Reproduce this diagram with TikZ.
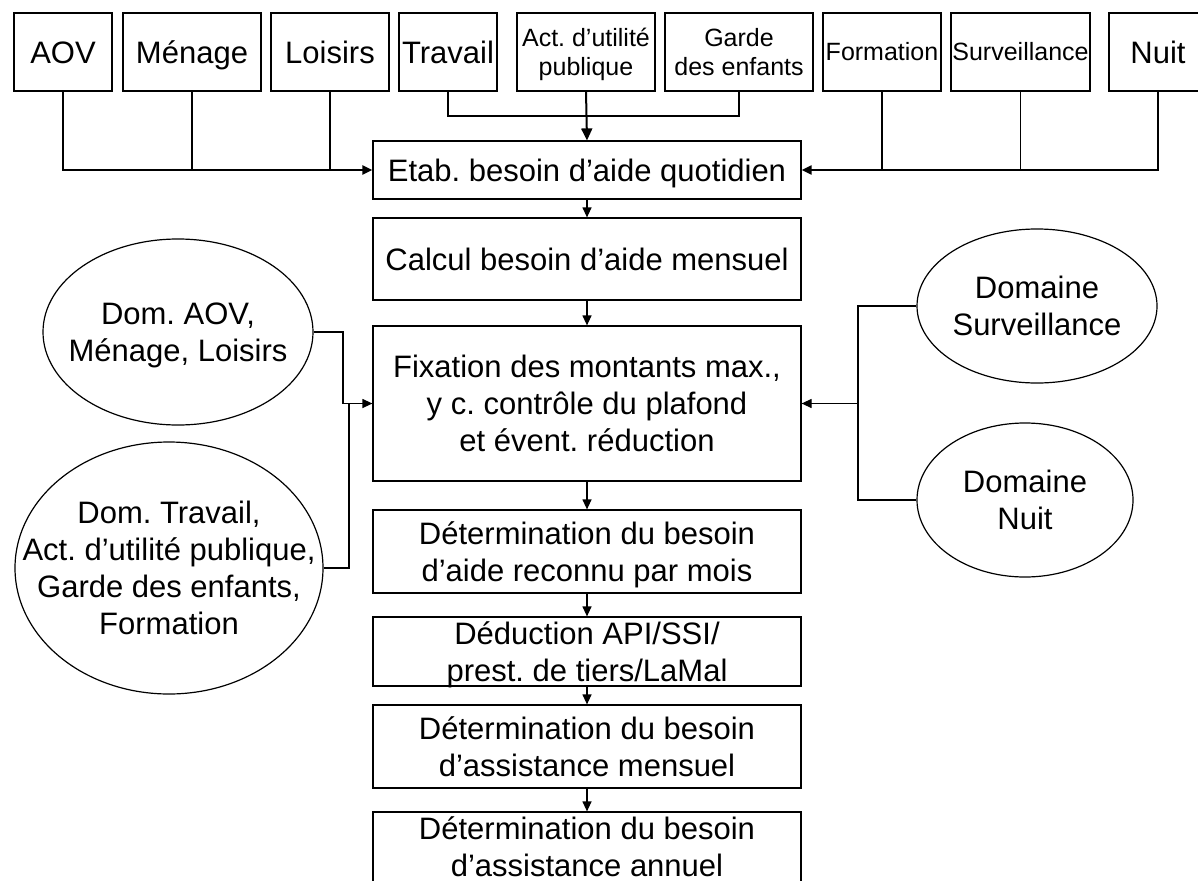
\documentclass[tikz,border=0pt]{standalone}
\usepackage{fontspec}
\setmainfont{Liberation Sans}
\usetikzlibrary{arrows.meta,shapes.geometric}
\frenchspacing
\newcommand\bigtxt{\fontsize{31}{37}\selectfont}
\newcommand\smtxt{\fontsize{25}{29}\selectfont}
% one line of text: its height is the cap height, its depth zero
\newcommand\lne[1]{\smash{#1}\rule{0pt}{0.716em}}
\tikzset{
  box/.style={draw, line width=1.2pt, inner sep=0pt, align=center, font=\bigtxt},
  topbox/.style={box, minimum height=78pt},
  smallbox/.style={topbox, font=\smtxt},
  flowbox/.style={box, minimum width=428pt},
  ell/.style={draw, ellipse, line width=1.2pt, inner sep=0pt},
  txt/.style={inner sep=0pt, align=center, font=\bigtxt},
  conn/.style={line width=1.2pt},
  thick conn/.style={line width=2pt},
  arr/.style={-{Triangle[length=10pt,width=9pt]}},
  bigarr/.style={-{Triangle[length=12pt,width=11pt]}}
}
\begin{document}
\begin{tikzpicture}[x=1pt,y=-1pt]
\useasboundingbox (0,0) rectangle (1198,880);
\clip (0,0) rectangle (1198,880);
% top row
\node[topbox, minimum width=98pt]  (aov)   at (63,52)    {\lne{AOV}};
\node[topbox, minimum width=138pt] (men)   at (192,52)   {\lne{Ménage}};
\node[topbox, minimum width=118pt] (loi)   at (330,52)   {\lne{Loisirs}};
\node[topbox, minimum width=98pt]  (trav)  at (448,52)   {\lne{Travail}};
\node[smallbox, minimum width=138pt] (act) at (586,52)   {\lne{Act. d’utilité}\\\lne{publique}};
\node[smallbox, minimum width=148pt] (gar) at (739,52)   {\lne{Garde}\\\lne{des enfants}};
\node[smallbox, minimum width=118pt] (form) at (882,52)  {\lne{Formation}};
\node[smallbox, minimum width=139pt] (surv) at (1020.5,52) {\lne{Surveillance}};
\node[topbox, minimum width=98pt]  (nuit)  at (1158,52)  {\lne{Nuit}};
% main flow
\node[flowbox, minimum height=58pt]  (etab) at (587,170)   {\lne{Etab. besoin d’aide quotidien}};
\node[flowbox, minimum height=82pt]  (calc) at (587,259)   {\lne{Calcul besoin d’aide mensuel}};
\node[flowbox, minimum height=155pt] (fix)  at (587,403.5) {\lne{Fixation des montants max.,}\\\lne{y c. contrôle du plafond}\\\lne{et évent. réduction}};
\node[flowbox, minimum height=83pt]  (det)  at (587,551.5) {\lne{Détermination du besoin}\\\lne{d’aide reconnu par mois}};
\node[flowbox, minimum height=69pt]  (ded)  at (587,651.5) {\lne{Déduction API/SSI/}\\\lne{prest. de tiers/LaMal}};
\node[flowbox, minimum height=83pt]  (mens) at (587,746.5) {\lne{Détermination du besoin}\\\lne{d’assistance mensuel}};
\node[flowbox, minimum height=73pt]  (ann)  at (587,848.5) {\lne{Détermination du besoin}\\\lne{d’assistance annuel}\rule[-4pt]{0pt}{4pt}};
% ellipses
\node[ell, minimum width=270pt, minimum height=186pt] (eaov) at (178,332) {};
\node[txt] (taov) at (eaov.center) {\lne{Dom. AOV,}\\\lne{Ménage, Loisirs}};
\node[ell, minimum width=308pt, minimum height=252pt] (etrav) at (169,568) {};
\node[txt] (ttrav) at (etrav.center) {\lne{Dom. Travail,}\\\lne{Act. d’utilité publique,}\\\lne{Garde des enfants,}\\\lne{Formation}};
\node[ell, minimum width=240pt, minimum height=154pt] (esurv) at (1037,306) {};
\node[txt] (tsurv) at (esurv.center) {\lne{Domaine}\\\lne{Surveillance}};
\node[ell, minimum width=216pt, minimum height=154pt] (enuit) at (1025,500) {};
\node[txt] (tnuit) at (enuit.center) {\lne{Domaine}\\\lne{Nuit}};
% junctions
\coordinate (jt) at (587,116);
\coordinate (jl1) at (343,403.5);
\coordinate (jl2) at (349,403.5);
\coordinate (jr) at (858,403.5);
% top-left connectors
\draw[conn] (aov.south) |- (men.south |- etab.west);
\draw[conn] (men.south) -- (men.south |- etab.west);
\draw[conn] (loi.south) -- (loi.south |- etab.west);
\draw[thick conn, arr] (men.south |- etab.west) -- (etab.west);
% top-middle connectors
\draw[conn] (trav.south) |- (jt) -| (gar.south);
\draw[thick conn, bigarr] (act.south) -- (etab.north);
% top-right connectors
\draw[conn] (nuit.south) |- (surv.south |- etab.east);
\draw[conn] (surv.south) -- (surv.south |- etab.east);
\draw[conn] (form.south) -- (form.south |- etab.east);
\draw[thick conn, arr] (surv.south |- etab.east) -- (etab.east);
% main chain
\draw[conn, arr] (etab.south) -- (calc.north);
\draw[conn, arr] (calc.south) -- (fix.north);
\draw[conn, arr] (fix.south) -- (det.north);
\draw[conn, arr] (det.south) -- (ded.north);
\draw[conn, arr] (ded.south) -- (mens.north);
\draw[conn, arr] (mens.south) -- (ann.north);
% left ellipses
\draw[conn] (eaov.east) -| (jl1);
\draw[conn] (etrav.east) -| (jl2);
\draw[conn, arr] (jl1) -- (fix.west);
% right ellipses
\draw[conn] (esurv.west) -| (jr);
\draw[conn] (enuit.west) -| (jr);
\draw[conn, arr] (jr) -- (fix.east);
\end{tikzpicture}
\end{document}
